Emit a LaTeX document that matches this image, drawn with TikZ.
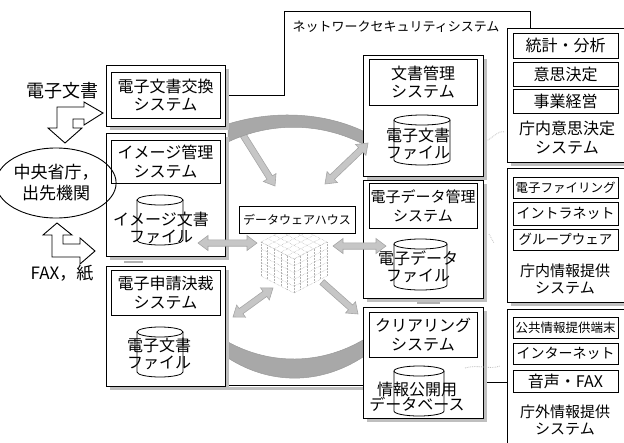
\documentclass[tikz,border=0pt]{standalone}
\usepackage{fontspec}
\setmainfont{Noto Sans CJK JP}
\usetikzlibrary{calc,shadows,shapes.geometric}

\tikzset{
  every node/.style={inner sep=0pt, outer sep=0pt},
  frame/.style={draw=black, line width=0.9pt},
  outerbox/.style={draw=black, line width=0.9pt, fill=white,
    general shadow={fill=gray!50, shadow xshift=3.5pt, shadow yshift=-3.5pt}},
  innerbox/.style={draw=black, line width=0.9pt, fill=white, align=center},
  drumtext/.style={font=\fontsize{16}{17}\selectfont, align=center},
  ttl/.style={font=\fontsize{16}{18.5}\selectfont, align=center},
  band/.style={fill=gray!68, draw=gray!80, line width=0.5pt},
  fatarrow/.style={fill=gray!45, draw=gray!70, line width=0.6pt},
  hollow/.style={fill=white, draw=black, line width=0.9pt, line join=miter},
  cubegrid/.style={densely dotted, gray!60, line width=0.5pt},
  faint/.style={densely dotted, gray!50, line width=0.8pt}
}

% fat arrow with one head: tail #1, tip #2
\newcommand{\fatsingle}[2]{%
  \coordinate (fsh) at ($(#2)!10pt!(#1)$);
  \filldraw[fatarrow] ($(#1)!3.2pt!90:(#2)$) -- ($(fsh)!3.2pt!90:(#2)$)
    -- ($(fsh)!7.5pt!90:(#2)$) -- (#2) -- ($(fsh)!7.5pt!-90:(#2)$)
    -- ($(fsh)!3.2pt!-90:(#2)$) -- ($(#1)!3.2pt!-90:(#2)$) -- cycle;}
% fat arrow with two heads
\newcommand{\fatdouble}[2]{%
  \coordinate (fdha) at ($(#1)!10pt!(#2)$);
  \coordinate (fdhb) at ($(#2)!10pt!(#1)$);
  \filldraw[fatarrow] (#1) -- ($(fdha)!7.5pt!90:(#2)$) -- ($(fdha)!3.2pt!90:(#2)$)
    -- ($(fdhb)!3.2pt!90:(#2)$) -- ($(fdhb)!7.5pt!90:(#2)$) -- (#2)
    -- ($(fdhb)!7.5pt!-90:(#2)$) -- ($(fdhb)!3.2pt!-90:(#2)$)
    -- ($(fdha)!3.2pt!-90:(#2)$) -- ($(fdha)!7.5pt!-90:(#2)$) -- cycle;}
% database drum: left x, right x, top y, bottom y
\newcommand{\drum}[4]{%
  \pgfmathsetmacro{\drumrx}{(#2-#1)/2}
  \filldraw[fill=white, draw=black, line width=0.8pt] (#1,#3+5) -- (#1,#4-5)
    arc[start angle=180, end angle=0, x radius=\drumrx, y radius=5] -- (#2,#3+5);
  \draw[line width=0.8pt] ({(#1+#2)/2},#3+5) ellipse[x radius=\drumrx, y radius=5];}

\begin{document}
\begin{tikzpicture}[x=1pt,y=-1pt]
\useasboundingbox (0,0) rectangle (624,442);
\clip (0,0) rectangle (624,442);

% network security system frame
\draw[frame] (228,95) -- (284,95) -- (284,11) -- (530,11) -- (530,28);
\fill[gray!50] (228,386.5) rectangle (363,389.5);
\draw[frame] (228,385) -- (363,385);
\draw[frame] (487,382) -- (507,382);
\node[font=\fontsize{13}{14}\selectfont] (netsec) at (396,27) {ネットワークセキュリティシステム};

% arrow from the upper band into the warehouse
\coordinate (a1s) at (238,127);
\coordinate (a1e) at (275,186);
\fatsingle{a1s}{a1e}

% curved bands joining the columns
\filldraw[band] (228,124) .. controls (270,111) and (320,111) .. (363,131)
  -- (363,144) .. controls (320,122) and (270,122) .. (228,142) -- cycle;
\filldraw[band] (228,342) .. controls (270,365) and (320,365) .. (363,340)
  -- (363,357) .. controls (320,385) and (270,385) .. (228,358) -- cycle;

% left column
\node[outerbox, minimum width=119pt, minimum height=61pt] (exbox) at (165.5,95.5) {};
\node[innerbox, ttl, minimum width=109pt, minimum height=46pt] (exttl) at (165.5,95) {電子文書交換\\システム};

\node[outerbox, minimum width=119pt, minimum height=123pt] (imgbox) at (165.5,194.5) {};
\node[innerbox, ttl, minimum width=109pt, minimum height=43pt] (imgttl) at (165.5,161.5) {イメージ管理\\システム};
\drum{137}{183}{195}{245}
\node[drumtext] (imgfile) at (161,228) {イメージ文書\\ファイル};

\node[outerbox, minimum width=119pt, minimum height=120pt] (appbox) at (165.5,326) {};
\node[innerbox, ttl, minimum width=109pt, minimum height=45pt] (appttl) at (165.5,292.5) {電子申請決裁\\システム};
\drum{137}{183}{327}{377}
\node[drumtext] (appfile) at (159,354) {電子文書\\ファイル};

\draw[gray!60, line width=2pt] (124,262) -- (143,262);

% middle column
\node[outerbox, minimum width=120pt, minimum height=121pt] (docbox) at (423,115.5) {};
\node[innerbox, ttl, minimum width=108pt, minimum height=46pt] (docttl) at (423,82) {文書管理\\システム};
\drum{394}{450}{115}{165}
\node[drumtext] (docfile) at (418,144) {電子文書\\ファイル};

\node[outerbox, minimum width=120pt, minimum height=118pt] (datbox) at (423,239) {};
\node[innerbox, font=\fontsize{15}{19}\selectfont, align=center, minimum width=108pt, minimum height=45pt] (datttl) at (423,205.5) {電子データ管理\\システム};
\drum{394}{447}{239}{290}
\node[drumtext] (datfile) at (418,267) {電子データ\\ファイル};

\node[outerbox, minimum width=120pt, minimum height=111pt] (clrbox) at (423,362.5) {};
\node[innerbox, ttl, minimum width=108pt, minimum height=45pt] (clrttl) at (423,334.5) {クリアリング\\システム};
\drum{394}{444}{366}{416}
\node[font=\fontsize{16}{15}\selectfont, align=center] (pubdb) at (417,396.5) {情報公開用\\データベース};

\draw[gray!60, line width=2pt] (417,303) -- (440,303);

% right column
\node[outerbox, minimum width=133pt, minimum height=134pt] (decbox) at (573.5,95) {};
\node[innerbox, font=\fontsize{16}{17}\selectfont, minimum width=105pt, minimum height=25pt] (stat) at (565.5,45.5) {統計・分析};
\node[innerbox, font=\fontsize{16}{17}\selectfont, minimum width=105pt, minimum height=24pt] (decide) at (565.5,74) {意思決定};
\node[innerbox, font=\fontsize{16}{17}\selectfont, minimum width=105pt, minimum height=24pt] (mgmt) at (565.5,101) {事業経営};
\node[ttl] (decttl) at (567,137.5) {庁内意思決定\\システム};

\node[outerbox, minimum width=133pt, minimum height=134pt] (intbox) at (573.5,235) {};
\node[innerbox, font=\fontsize{12.5}{13}\selectfont, minimum width=105pt, minimum height=21pt] (filing) at (565.5,187.5) {電子ファイリング};
\node[innerbox, font=\fontsize{14}{15}\selectfont, minimum width=105pt, minimum height=23pt] (intra) at (565.5,213.5) {イントラネット};
\node[innerbox, font=\fontsize{13.5}{14}\selectfont, minimum width=105pt, minimum height=21pt] (group) at (565.5,239.5) {グループウェア};
\node[font=\fontsize{15}{17}\selectfont, align=center] (intttl) at (565,279) {庁内情報提供\\システム};

\node[outerbox, minimum width=133pt, minimum height=161pt] (extbox) at (573.5,389.5) {};
\node[innerbox, font=\fontsize{12.5}{13}\selectfont, minimum width=105pt, minimum height=21pt] (kiosk) at (565.5,327.5) {公共情報提供端末};
\node[innerbox, font=\fontsize{14}{15}\selectfont, minimum width=105pt, minimum height=21pt] (inet) at (565.5,353.5) {インターネット};
\node[innerbox, font=\fontsize{16}{17}\selectfont, minimum width=105pt, minimum height=22pt] (voice) at (565.5,381) {音声・FAX};
\node[font=\fontsize{15}{17}\selectfont, align=center] (extttl) at (565,420.5) {庁外情報提供\\システム};

% faint dotted links toward the right column
\draw[faint] (486,141) .. controls (493,138) and (498,130) .. (505,132);
\draw[faint] (489,234) -- (494,243);
\draw[faint] (465,368) .. controls (478,364) and (490,370) .. (500,366);

% data warehouse cube
\coordinate (cT) at (294,225);
\coordinate (cUL) at (261,242);
\coordinate (cUR) at (327,242);
\coordinate (cC) at (294,259);
\coordinate (cLL) at (261,276);
\coordinate (cLR) at (327,276);
\coordinate (cB) at (294,293);
\foreach \i in {0,1,2,3,4,5} {
  \draw[cubegrid] ($(cUL)!\i/5!(cT)$) -- ($(cC)!\i/5!(cUR)$);
  \draw[cubegrid] ($(cUL)!\i/5!(cC)$) -- ($(cT)!\i/5!(cUR)$);
  \draw[cubegrid] ($(cUL)!\i/5!(cC)$) -- ($(cLL)!\i/5!(cB)$);
  \draw[cubegrid] ($(cUL)!\i/5!(cLL)$) -- ($(cC)!\i/5!(cB)$);
  \draw[cubegrid] ($(cC)!\i/5!(cUR)$) -- ($(cB)!\i/5!(cLR)$);
  \draw[cubegrid] ($(cC)!\i/5!(cB)$) -- ($(cUR)!\i/5!(cLR)$);
}
\node[draw=black, line width=0.9pt, fill=white, font=\fontsize{12}{13}\selectfont,
  minimum width=116pt, minimum height=27pt] (dwh) at (297,219.5) {データウェアハウス};

% fat arrows around the warehouse
\coordinate (a2s) at (325,184);
\coordinate (a2e) at (368,143);
\fatdouble{a2s}{a2e}
\coordinate (a3s) at (198,243);
\coordinate (a3e) at (257,243);
\fatdouble{a3s}{a3e}
\coordinate (a4s) at (333,246);
\coordinate (a4e) at (386,246);
\fatdouble{a4s}{a4e}
\coordinate (a5s) at (233,317);
\coordinate (a5e) at (273,288);
\fatdouble{a5s}{a5e}
\coordinate (a6s) at (322,282);
\coordinate (a6e) at (358,314);
\fatsingle{a6s}{a6e}

% central and branch offices
\node[draw=black, line width=0.9pt, ellipse, minimum width=92pt, minimum height=70pt,
  font=\fontsize{17}{21}\selectfont, align=center] (gov) at (56,183) {中央省庁，\\出先機関};
\node[font=\fontsize{18}{19}\selectfont] (edoc) at (63,91) {電子文書};
\node[font=\fontsize{17}{18}\selectfont] (fax) at (62,273) {FAX，紙};
\filldraw[hollow] (103,113) -- (84,102) -- (84,107) -- (57,107) -- (57,128) -- (48,128)
  -- (65,143) -- (82,128) -- (73,128) -- (73,119) -- (84,119) -- (84,125) -- cycle;
\filldraw[hollow] (57,223) -- (72,235) -- (63,235) -- (63,244) -- (80,244) -- (80,238)
  -- (95,251) -- (80,264) -- (80,257) -- (52,257) -- (52,235) -- (43,235) -- cycle;
\end{tikzpicture}
\end{document}
